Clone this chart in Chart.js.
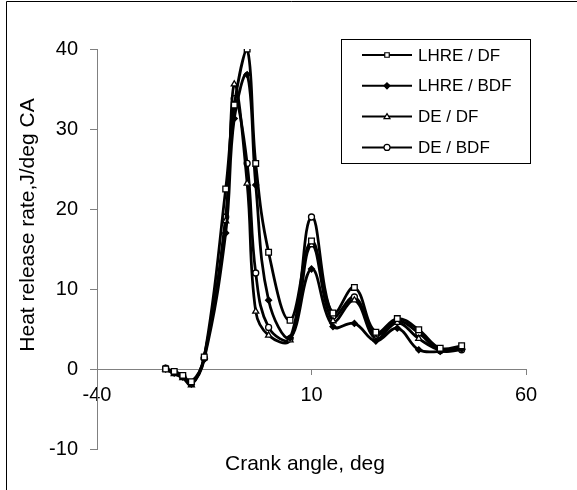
<!DOCTYPE html>
<html>
<head>
<meta charset="utf-8">
<script src="https://cdn.jsdelivr.net/npm/chart.js"></script>
<style>
  body { margin: 0; background: #fff; }
</style>
</head>
<body>
<canvas id="myChart" width="577" height="490"></canvas>
<script>
// crank angle, deg
const crankAngle = [-24, -22, -20, -18, -15, -10, -8, -5, -3, 0, 5, 10, 15, 20, 25, 30, 35, 40, 45];

// heat release rate, J/deg CA
const lhreDF  = [0, -0.3, -0.8, -1.6, 1.5, 22.5, 33, 40, 25.7, 14.6, 6.1, 16, 7.0, 10.2, 4.6, 6.3, 4.9, 2.6, 2.9];
const lhreBDF = [0, -0.5, -1.0, -1.9, 1.2, 17, 31.3, 36.8, 23, 8.6, 3.9, 12.5, 5.3, 5.7, 3.5, 5.1, 2.4, 2.2, 2.5];
const deDF    = [0, -0.6, -1.1, -2.0, 1.6, 18.5, 35.6, 23.2, 7.2, 4.2, 3.6, 15.5, 6.0, 8.6, 3.8, 5.8, 3.8, 2.4, 2.7];
const deBDF   = [0.1, -0.4, -0.9, -1.8, 1.4, 19, 33.8, 25.7, 12, 5.2, 3.8, 19, 6.6, 9.0, 4.3, 6.0, 4.5, 2.3, 2.4];

const seriesNames = ['LHRE / DF', 'LHRE / BDF', 'DE / DF', 'DE / BDF'];
const xTicks = [-40, 10, 60];
const yTicks = [-10, 0, 10, 20, 30, 40];

const fontFamily = '"Liberation Sans", Arial, sans-serif';

function toPoints(ys) {
  return crankAngle.map(function (x, i) { return { x: x, y: ys[i] }; });
}

function makeSet(label, ys, style, radius, fill) {
  return {
    label: label,
    data: toPoints(ys),
    borderColor: '#000',
    borderWidth: 2.75,
    tension: 0.4,
    fill: false,
    pointStyle: style,
    pointRadius: radius,
    pointBorderWidth: 1.3,
    pointBorderColor: '#000',
    pointBackgroundColor: fill
  };
}

// small marker drawer for the legend
function drawMarker(ctx, style, x, y, r, fill) {
  ctx.beginPath();
  if (style === 'rect') {
    ctx.rect(x - r * 0.75, y - r * 0.75, r * 1.5, r * 1.5);
  } else if (style === 'rectRot') {
    ctx.moveTo(x, y - r); ctx.lineTo(x + r, y); ctx.lineTo(x, y + r); ctx.lineTo(x - r, y); ctx.closePath();
  } else if (style === 'triangle') {
    ctx.moveTo(x, y - r); ctx.lineTo(x + r, y + r * 0.7); ctx.lineTo(x - r, y + r * 0.7); ctx.closePath();
  } else {
    ctx.arc(x, y, r, 0, Math.PI * 2);
  }
  ctx.fillStyle = fill;
  ctx.fill();
  ctx.lineWidth = 1.2;
  ctx.strokeStyle = '#000';
  ctx.stroke();
}

// legend box, axis titles, outer frame
const extras = {
  id: 'extras',
  afterDraw(chart) {
    const ctx = chart.ctx;
    ctx.save();

    ctx.strokeStyle = '#000';
    ctx.lineWidth = 1;
    ctx.beginPath();
    ctx.moveTo(6.5, 490); ctx.lineTo(6.5, 1.5); ctx.lineTo(577, 1.5);
    ctx.stroke();

    ctx.strokeRect(341.5, 39.5, 189, 124);
    chart.data.datasets.forEach(function (ds, i) {
      const y = 55 + i * 30.8;
      ctx.strokeStyle = '#000';
      ctx.lineWidth = 2;
      ctx.beginPath(); ctx.moveTo(362, y); ctx.lineTo(412, y); ctx.stroke();
      drawMarker(ctx, ds.pointStyle, 387, y, 3, ds.pointBackgroundColor);
      ctx.fillStyle = '#000';
      ctx.font = '17px ' + fontFamily;
      ctx.textAlign = 'left';
      ctx.textBaseline = 'middle';
      ctx.fillText(ds.label, 418, y + 1);
    });

    ctx.fillStyle = '#000';
    ctx.font = '21px ' + fontFamily;
    ctx.textAlign = 'center';
    ctx.textBaseline = 'middle';
    ctx.fillText('Crank angle, deg', 305, 464);

    ctx.translate(28, 225);
    ctx.rotate(-Math.PI / 2);
    ctx.fillText('Heat release rate,J/deg CA', 0, 0);
    ctx.restore();
  }
};

const data = {
  datasets: [
    makeSet(seriesNames[0], lhreDF, 'rect', 4, '#fff'),
    makeSet(seriesNames[1], lhreBDF, 'rectRot', 3, '#000'),
    makeSet(seriesNames[2], deDF, 'triangle', 3.5, '#fff'),
    makeSet(seriesNames[3], deBDF, 'circle', 3, '#fff')
  ]
};

const config = {
  type: 'line',
  data: data,
  options: {
    responsive: false,
    animation: false,
    devicePixelRatio: 1,
    layout: { padding: { left: 0, top: 49, right: 51, bottom: 41 } },
    plugins: { legend: { display: false }, tooltip: { enabled: false } },
    scales: {
      x: {
        type: 'linear',
        min: -40,
        max: 60,
        position: { y: 0 },
        afterFit: function (s) { s.height = 0; },
        afterBuildTicks: function (s) { s.ticks = xTicks.map(function (v) { return { value: v }; }); },
        grid: { drawOnChartArea: false, drawTicks: true, tickLength: 5, color: '#808080' },
        border: { color: '#808080', width: 1 },
        ticks: { color: '#000', font: { size: 20, family: fontFamily }, padding: 9, maxRotation: 0, autoSkip: false }
      },
      y: {
        type: 'linear',
        min: -10,
        max: 40,
        position: 'left',
        afterFit: function (s) { s.width = 97; },
        afterBuildTicks: function (s) { s.ticks = yTicks.map(function (v) { return { value: v }; }); },
        grid: { drawOnChartArea: false, drawTicks: true, tickLength: 7, color: '#808080' },
        border: { color: '#808080', width: 1 },
        ticks: { color: '#000', font: { size: 20, family: fontFamily }, padding: 12 }
      }
    }
  },
  plugins: [extras]
};

const myChart = new Chart(document.getElementById('myChart'), config);
</script>
</body>
</html>
